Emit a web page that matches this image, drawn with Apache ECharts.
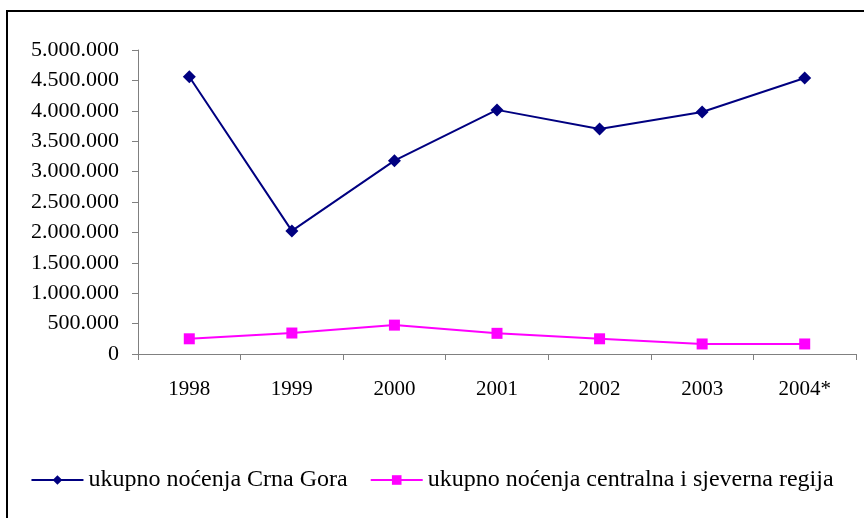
<!DOCTYPE html>
<html>
<head>
<meta charset="utf-8">
<script src="https://cdn.jsdelivr.net/npm/echarts@6/dist/echarts.min.js"></script>
<style>
  html, body { margin: 0; padding: 0; background: #fff; }
  #chart { width: 864px; height: 518px; }
</style>
</head>
<body>
<div id="chart"></div>
<script>
// godine
var years = ['1998', '1999', '2000', '2001', '2002', '2003', '2004*'];
// ukupno noćenja Crna Gora
var crnaGora = [4560000, 2025000, 3180000, 4015000, 3700000, 3980000, 4540000];
// ukupno noćenja centralna i sjeverna regija
var sjever = [250000, 345000, 475000, 340000, 250000, 165000, 165000];

var font = 'Liberation Serif, Times New Roman, serif';

// broj sa tačkom kao separatorom hiljada
function fmt(v) {
  return String(v).replace(/\B(?=(\d{3})+(?!\d))/g, '.');
}

var chart = echarts.init(document.getElementById('chart'));

var option = {
  animation: false,
  backgroundColor: '#fff',
  textStyle: { fontFamily: font },
  grid: {
    left: 138,
    right: 8,
    top: 50,
    bottom: 164
  },
  graphic: [{
    type: 'polyline',
    shape: { points: [[7, 520], [7, 11], [866, 11]] },
    style: { stroke: '#000', lineWidth: 2, fill: null }
  }],
  legend: {
    top: 463,
    left: 'center',
    itemWidth: 52,
    itemHeight: 12,
    itemGap: 22,
    textStyle: { fontFamily: font, fontSize: 24, color: '#000' },
    data: ['ukupno noćenja Crna Gora', 'ukupno noćenja centralna i sjeverna regija']
  },
  xAxis: {
    type: 'category',
    data: years,
    boundaryGap: true,
    axisLine: { lineStyle: { color: '#808080', width: 1 } },
    axisTick: { show: true, length: 6, inside: false, lineStyle: { color: '#808080' } },
    axisLabel: { color: '#000', fontFamily: font, fontSize: 21, margin: 25 },
    splitLine: { show: false }
  },
  yAxis: {
    type: 'value',
    min: 0,
    max: 5000000,
    interval: 500000,
    axisLine: { show: true, lineStyle: { color: '#808080', width: 1 } },
    axisTick: { show: true, length: 6, lineStyle: { color: '#808080' } },
    axisLabel: {
      color: '#000', fontFamily: font, fontSize: 22, margin: 19,
      formatter: fmt
    },
    splitLine: { show: false }
  },
  series: [{
    name: 'ukupno noćenja Crna Gora',
    type: 'line',
    data: crnaGora,
    symbol: 'diamond',
    symbolSize: 13,
    lineStyle: { color: '#000080', width: 2 },
    itemStyle: { color: '#000080' }
  }, {
    name: 'ukupno noćenja centralna i sjeverna regija',
    type: 'line',
    data: sjever,
    symbol: 'rect',
    symbolSize: 11,
    lineStyle: { color: '#FF00FF', width: 2 },
    itemStyle: { color: '#FF00FF' }
  }]
};

chart.setOption(option);
</script>
</body>
</html>
